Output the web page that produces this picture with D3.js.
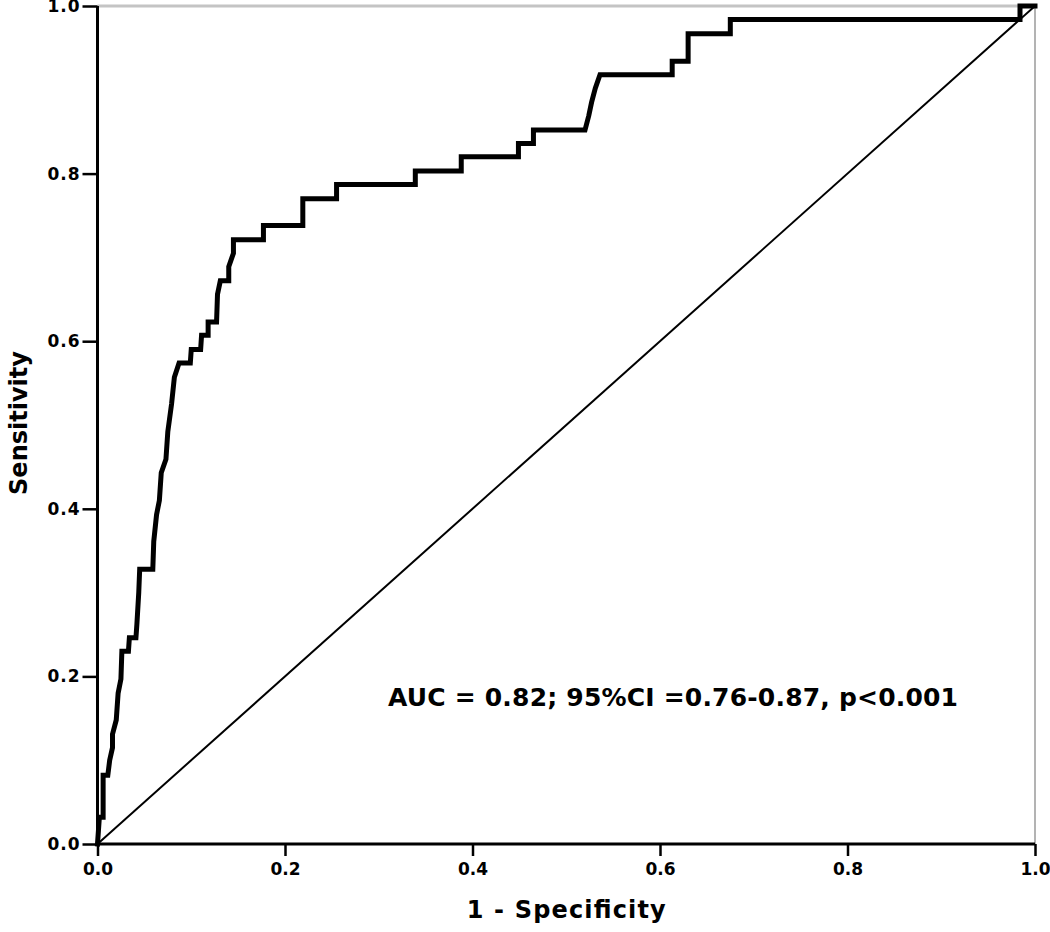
<!DOCTYPE html>
<html>
<head>
<meta charset="utf-8">
<script src="https://cdn.jsdelivr.net/npm/d3@7"></script>
<style>
  body { margin: 0; background: #fff; }
  svg { display: block; }
  text { font-family: "DejaVu Sans", sans-serif; font-weight: bold; fill: #000; }
</style>
</head>
<body>
<svg id="roc" width="1050" height="932"></svg>
<script>
// ROC curve
const fpr = [0, 0.002, 0.006, 0.006, 0.011, 0.013, 0.016, 0.016, 0.020, 0.022, 0.025, 0.026, 0.033, 0.034, 0.041, 0.042,
  0.044, 0.045, 0.059, 0.060, 0.063, 0.066, 0.068, 0.073, 0.075, 0.079, 0.082, 0.087, 0.099, 0.100, 0.110, 0.111,
  0.118, 0.118, 0.127, 0.128, 0.131, 0.140, 0.140, 0.145, 0.145, 0.177, 0.177, 0.219, 0.219, 0.255, 0.255, 0.339,
  0.339, 0.388, 0.388, 0.449, 0.449, 0.465, 0.465, 0.520, 0.524, 0.527, 0.531, 0.536, 0.613, 0.613, 0.630, 0.630,
  0.675, 0.675, 0.984, 0.984, 1];
const tpr = [0, 0.032, 0.032, 0.082, 0.082, 0.100, 0.115, 0.131, 0.148, 0.180, 0.197, 0.230, 0.230, 0.246, 0.246, 0.262,
  0.300, 0.328, 0.328, 0.361, 0.393, 0.410, 0.443, 0.459, 0.492, 0.525, 0.557, 0.574, 0.574, 0.590, 0.590, 0.607,
  0.607, 0.623, 0.623, 0.656, 0.672, 0.672, 0.689, 0.705, 0.721, 0.721, 0.738, 0.738, 0.770, 0.770, 0.787, 0.787,
  0.803, 0.803, 0.820, 0.820, 0.836, 0.836, 0.852, 0.852, 0.869, 0.885, 0.902, 0.918, 0.918, 0.934, 0.934, 0.967,
  0.967, 0.984, 0.984, 1.0, 1];
const ticks = [0, 0.2, 0.4, 0.6, 0.8, 1.0];
const refLine = [[0, 0], [1, 1]];
const note = "AUC = 0.82; 95%CI =0.76-0.87, p<0.001";

const plotL = 97.5, plotR = 1035, plotT = 6, plotB = 844;
const x = d3.scaleLinear().domain([0, 1]).range([plotL, plotR]);
const y = d3.scaleLinear().domain([0, 1]).range([plotB, plotT]);

const svg = d3.select("#roc");

// frame: light grey on top and right
svg.append("line")
  .attr("x1", plotL).attr("x2", plotR).attr("y1", plotT).attr("y2", plotT)
  .attr("stroke", "#c4c4c4").attr("stroke-width", 3);
svg.append("line")
  .attr("x1", plotR).attr("x2", plotR).attr("y1", plotT).attr("y2", plotB)
  .attr("stroke", "#9a9a9a").attr("stroke-width", 1.5);

// reference diagonal
svg.append("path")
  .datum(refLine)
  .attr("d", d3.line().x(d => x(d[0])).y(d => y(d[1])))
  .attr("fill", "none")
  .attr("stroke", "#000")
  .attr("stroke-width", 2);

// roc curve
const pts = fpr.map((v, i) => [v, tpr[i]]);
svg.append("path")
  .datum(pts)
  .attr("d", d3.line().x(d => x(d[0])).y(d => y(d[1])))
  .attr("fill", "none")
  .attr("stroke", "#000")
  .attr("stroke-width", 5)
  .attr("stroke-linejoin", "miter")
  .attr("stroke-linecap", "square");

// axes
const xAxis = svg.append("g")
  .attr("transform", `translate(0,${plotB})`)
  .call(d3.axisBottom(x).tickValues(ticks).tickFormat(d3.format(".1f")).tickSize(12).tickPadding(7));
const yAxis = svg.append("g")
  .attr("transform", `translate(${plotL},0)`)
  .call(d3.axisLeft(y).tickValues(ticks).tickFormat(d3.format(".1f")).tickSize(15).tickPadding(2));

[xAxis, yAxis].forEach(g => {
  g.select(".domain").attr("stroke", "#000").attr("stroke-width", 3);
  g.selectAll(".tick line").attr("stroke", "#000").attr("stroke-width", 2.5);
  g.selectAll(".tick text")
    .style("font-family", "'DejaVu Sans', sans-serif")
    .style("font-weight", "bold")
    .style("font-size", "17px")
    .attr("fill", "#000");
});
yAxis.selectAll(".tick text").style("letter-spacing", "1px");
xAxis.select(".domain").attr("d", `M${plotL},0H${plotR}`);
yAxis.select(".domain").attr("d", `M0,${plotB}V${plotT}`);

// axis titles
svg.append("text")
  .attr("x", (plotL + plotR) / 2)
  .attr("y", 918)
  .attr("text-anchor", "middle")
  .attr("textLength", 199)
  .attr("lengthAdjust", "spacing")
  .style("font-size", "24px")
  .text("1 - Specificity");

svg.append("text")
  .attr("transform", "translate(27,423) rotate(-90)")
  .attr("text-anchor", "middle")
  .style("font-size", "24px")
  .text("Sensitivity");

// annotation
svg.append("text")
  .attr("x", 388)
  .attr("y", 706)
  .attr("textLength", 570)
  .attr("lengthAdjust", "spacing")
  .style("font-size", "25px")
  .text(note);
</script>
</body>
</html>
